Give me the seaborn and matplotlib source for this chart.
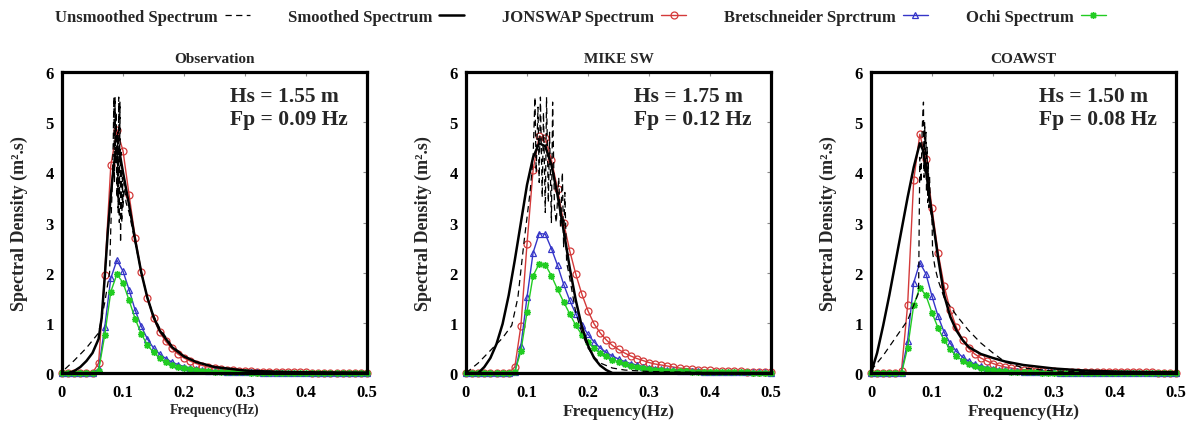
import matplotlib
matplotlib.use("Agg")
import matplotlib.pyplot as plt
import seaborn as sns

# frequency grid of the fitted spectra (Hz)
freq = [0.00, 0.01, 0.02, 0.03, 0.04, 0.05, 0.06, 0.07, 0.08, 0.09,
        0.10, 0.11, 0.12, 0.13, 0.14, 0.15, 0.16, 0.17, 0.18, 0.19,
        0.20, 0.21, 0.22, 0.23, 0.24, 0.25, 0.26, 0.27, 0.28, 0.29,
        0.30, 0.31, 0.32, 0.33, 0.34, 0.35, 0.36, 0.37, 0.38, 0.39,
        0.40, 0.41, 0.42, 0.43, 0.44, 0.45, 0.46, 0.47, 0.48, 0.49, 0.50]

# ---- Observation ----
obs_jonswap = [0, 0, 0, 0, 0, 0, 0.20, 1.96, 4.14, 4.85,
               4.43, 3.55, 2.70, 2.02, 1.49, 1.09, 0.82, 0.63, 0.49, 0.38,
               0.30, 0.24, 0.19, 0.15, 0.12, 0.10, 0.08, 0.07, 0.06, 0.05,
               0.04, 0.035, 0.03, 0.027, 0.024, 0.021, 0.019, 0.017, 0.015, 0.013,
               0.012, 0.011, 0.010, 0.009, 0.008, 0.008, 0.007, 0.006, 0.006, 0.005, 0.005]
obs_bret = [0, 0, 0, 0, 0, 0, 0.08, 0.91, 1.89, 2.25,
            2.03, 1.66, 1.25, 0.93, 0.68, 0.50, 0.38, 0.29, 0.22, 0.17,
            0.13, 0.10, 0.08, 0.065, 0.05, 0.04, 0.035, 0.03, 0.025, 0.02,
            0.018, 0.015, 0.013, 0.011, 0.010, 0.009, 0.008, 0.007, 0.006, 0.006,
            0.005, 0.005, 0.004, 0.004, 0.004, 0.003, 0.003, 0.003, 0.003, 0.002, 0.002]
obs_ochi = [0, 0, 0, 0, 0, 0, 0.05, 0.75, 1.62, 1.97,
            1.80, 1.45, 1.08, 0.78, 0.56, 0.41, 0.30, 0.22, 0.17, 0.13,
            0.10, 0.08, 0.06, 0.05, 0.04, 0.03, 0.025, 0.02, 0.017, 0.014,
            0.012, 0.010, 0.009, 0.008, 0.007, 0.006, 0.005, 0.005, 0.004, 0.004,
            0.003, 0.003, 0.003, 0.002, 0.002, 0.002, 0.002, 0.002, 0.001, 0.001, 0.001]
obs_smooth_f = [0.0, 0.01, 0.02, 0.03, 0.04, 0.05, 0.06, 0.065, 0.07, 0.075,
                0.08, 0.085, 0.09, 0.095, 0.10, 0.11, 0.12, 0.13, 0.14, 0.15,
                0.16, 0.18, 0.20, 0.22, 0.25, 0.30, 0.35, 0.40, 0.45, 0.50]
obs_smooth = [0.0, 0.0, 0.04, 0.12, 0.24, 0.40, 0.68, 1.10, 1.90, 2.80,
              3.55, 4.15, 4.50, 4.35, 4.00, 3.35, 2.65, 2.00, 1.50, 1.12,
              0.85, 0.52, 0.33, 0.22, 0.12, 0.05, 0.025, 0.015, 0.010, 0.008]
obs_raw_f = [0.005, 0.02, 0.04, 0.06, 0.07, 0.078, 0.080, 0.082, 0.084, 0.085,
             0.086, 0.087, 0.088, 0.089, 0.090, 0.091, 0.092, 0.093, 0.094, 0.095,
             0.096, 0.097, 0.098, 0.099, 0.100, 0.102, 0.105, 0.11, 0.12, 0.13,
             0.14, 0.15, 0.16, 0.17, 0.18, 0.20, 0.22, 0.25, 0.30, 0.40, 0.50]
obs_raw = [0.08, 0.25, 0.50, 0.80, 1.40, 2.00, 2.90, 3.60, 4.60, 5.50,
           3.80, 5.50, 4.20, 5.20, 3.50, 4.80, 3.20, 5.50, 3.00, 5.40,
           2.60, 4.40, 3.00, 3.90, 3.30, 3.80, 3.40, 3.20, 2.60, 2.00,
           1.50, 1.15, 0.90, 0.72, 0.55, 0.34, 0.22, 0.12, 0.05, 0.02, 0.01]

# ---- MIKE SW ----
mike_jonswap = [0, 0, 0, 0, 0, 0, 0, 0, 0.12, 0.94,
                2.57, 4.05, 4.72, 4.68, 4.25, 3.67, 3.00, 2.44, 1.97, 1.57,
                1.24, 0.98, 0.80, 0.66, 0.55, 0.47, 0.40, 0.34, 0.29, 0.25,
                0.21, 0.18, 0.16, 0.14, 0.12, 0.10, 0.09, 0.08, 0.07, 0.06,
                0.055, 0.05, 0.045, 0.04, 0.036, 0.033, 0.03, 0.027, 0.025, 0.023, 0.021]
mike_bret = [0, 0, 0, 0, 0, 0, 0, 0, 0.02, 0.54,
             1.51, 2.40, 2.78, 2.77, 2.48, 2.15, 1.77, 1.45, 1.18, 0.96,
             0.77, 0.62, 0.50, 0.41, 0.34, 0.28, 0.23, 0.19, 0.16, 0.13,
             0.11, 0.09, 0.08, 0.07, 0.06, 0.05, 0.045, 0.04, 0.035, 0.03,
             0.027, 0.024, 0.022, 0.02, 0.018, 0.016, 0.015, 0.014, 0.013, 0.012, 0.011]
mike_ochi = [0, 0, 0, 0, 0, 0, 0, 0, 0.02, 0.44,
             1.21, 1.94, 2.18, 2.16, 1.94, 1.67, 1.42, 1.18, 0.95, 0.76,
             0.61, 0.49, 0.40, 0.33, 0.27, 0.22, 0.18, 0.15, 0.12, 0.10,
             0.085, 0.07, 0.06, 0.05, 0.045, 0.04, 0.035, 0.03, 0.027, 0.024,
             0.021, 0.019, 0.017, 0.015, 0.014, 0.013, 0.012, 0.011, 0.010, 0.009, 0.008]
mike_smooth_f = [0.00, 0.02, 0.03, 0.04, 0.05, 0.06, 0.07, 0.08, 0.09, 0.10,
                 0.11, 0.12, 0.13, 0.14, 0.15, 0.16, 0.17, 0.18, 0.19, 0.20,
                 0.21, 0.22, 0.23, 0.24, 0.30, 0.40, 0.50]
mike_smooth = [0.0, 0.0, 0.12, 0.30, 0.58, 0.98, 1.55, 2.25, 3.00, 3.75,
               4.30, 4.58, 4.52, 4.15, 3.55, 2.85, 2.10, 1.45, 0.92, 0.55,
               0.30, 0.15, 0.06, 0.0, 0.0, 0.0, 0.0]
mike_raw_f = [0.00, 0.02, 0.04, 0.06, 0.075, 0.085, 0.095, 0.105, 0.11, 0.113,
              0.115, 0.118, 0.12, 0.122, 0.125, 0.127, 0.13, 0.132, 0.135, 0.137,
              0.14, 0.142, 0.145, 0.148, 0.152, 0.155, 0.158, 0.16, 0.162, 0.165,
              0.17, 0.18, 0.19, 0.20, 0.21, 0.22, 0.24, 0.26, 0.30, 0.40, 0.50]
mike_raw = [0.0, 0.20, 0.45, 0.70, 0.95, 1.50, 2.60, 3.60, 4.30, 5.50,
            4.00, 5.30, 3.80, 5.50, 3.50, 5.20, 3.20, 5.50, 3.40, 4.80,
            3.00, 5.40, 3.30, 3.00, 3.90, 2.90, 4.00, 2.50, 3.60, 2.20,
            1.90, 1.20, 0.80, 0.50, 0.32, 0.20, 0.10, 0.06, 0.03, 0.01, 0.005]

# ---- COAWST ----
coawst_jonswap = [0, 0, 0, 0, 0, 0.05, 1.35, 3.84, 4.76, 4.26,
                  3.28, 2.40, 1.73, 1.25, 0.91, 0.66, 0.49, 0.38, 0.30, 0.24,
                  0.19, 0.15, 0.12, 0.10, 0.08, 0.07, 0.06, 0.05, 0.045, 0.04,
                  0.035, 0.03, 0.028, 0.026, 0.024, 0.022, 0.02, 0.019, 0.018, 0.017,
                  0.016, 0.015, 0.014, 0.013, 0.013, 0.012, 0.012, 0.011, 0.011, 0.010, 0.010]
coawst_bret = [0, 0, 0, 0, 0, 0, 0.64, 1.80, 2.20, 1.98,
               1.53, 1.13, 0.81, 0.59, 0.43, 0.32, 0.24, 0.18, 0.14, 0.11,
               0.085, 0.07, 0.055, 0.045, 0.037, 0.03, 0.025, 0.021, 0.018, 0.015,
               0.013, 0.011, 0.010, 0.009, 0.008, 0.007, 0.006, 0.006, 0.005, 0.005,
               0.004, 0.004, 0.004, 0.003, 0.003, 0.003, 0.003, 0.002, 0.002, 0.002, 0.002]
coawst_ochi = [0, 0, 0, 0, 0, 0, 0.50, 1.35, 1.70, 1.55,
               1.20, 0.90, 0.65, 0.47, 0.34, 0.25, 0.18, 0.135, 0.10, 0.075,
               0.06, 0.045, 0.035, 0.028, 0.022, 0.018, 0.015, 0.012, 0.010, 0.009,
               0.008, 0.007, 0.006, 0.005, 0.005, 0.004, 0.004, 0.003, 0.003, 0.003,
               0.002, 0.002, 0.002, 0.002, 0.002, 0.002, 0.001, 0.001, 0.001, 0.001, 0.001]
coawst_smooth_f = [0.0, 0.01, 0.02, 0.03, 0.04, 0.05, 0.06, 0.07, 0.08, 0.085,
                   0.09, 0.095, 0.10, 0.11, 0.12, 0.13, 0.14, 0.15, 0.16, 0.18,
                   0.20, 0.22, 0.25, 0.30, 0.35, 0.40, 0.45, 0.50]
coawst_smooth = [0.0, 0.40, 0.95, 1.55, 2.20, 2.85, 3.50, 4.10, 4.58, 4.45,
                 4.05, 3.60, 3.15, 2.30, 1.55, 1.12, 0.85, 0.66, 0.52, 0.38,
                 0.30, 0.23, 0.16, 0.09, 0.05, 0.03, 0.02, 0.015]
coawst_raw_f = [0.0, 0.02, 0.04, 0.06, 0.07, 0.078, 0.080, 0.082, 0.084, 0.086,
                0.087, 0.088, 0.089, 0.090, 0.091, 0.092, 0.093, 0.094, 0.095, 0.096,
                0.098, 0.100, 0.101, 0.105, 0.11, 0.12, 0.14, 0.16, 0.18, 0.20,
                0.22, 0.25, 0.30, 0.40, 0.50]
coawst_raw = [0.05, 0.35, 0.70, 1.05, 1.35, 1.60, 4.30, 3.80, 4.90, 5.40,
              3.90, 5.00, 4.00, 4.80, 3.60, 4.50, 3.40, 4.20, 3.30, 3.90,
              3.20, 3.10, 2.40, 2.10, 1.85, 1.50, 1.15, 0.85, 0.60, 0.40,
              0.22, 0.10, 0.04, 0.015, 0.008]

titles = ["Observation", "MIKE SW", "COAWST"]
hs_values = ["1.55", "1.75", "1.50"]
fp_values = ["0.09", "0.12", "0.08"]
legend_labels = ["Unsmoothed Spectrum", "Smoothed Spectrum", "JONSWAP Spectrum",
                 "Bretschneider Sprctrum", "Ochi Spectrum"]
xticks = [0, 0.1, 0.2, 0.3, 0.4, 0.5]
xticklabels = ["0", "0.1", "0.2", "0.3", "0.4", "0.5"]
yticks = [0, 1, 2, 3, 4, 5, 6]

sns.set_style("white")
plt.rcParams['font.family'] = ['Liberation Serif', 'DejaVu Serif']
plt.rcParams['font.weight'] = 'bold'
plt.rcParams['axes.labelweight'] = 'bold'
plt.rcParams['axes.titleweight'] = 'bold'

RED = '#d43a3a'
BLUE = '#3535c8'
GREEN = '#22cc22'

panels = [
    (obs_raw_f, obs_raw, obs_smooth_f, obs_smooth, obs_jonswap, obs_bret, obs_ochi),
    (mike_raw_f, mike_raw, mike_smooth_f, mike_smooth, mike_jonswap, mike_bret, mike_ochi),
    (coawst_raw_f, coawst_raw, coawst_smooth_f, coawst_smooth, coawst_jonswap, coawst_bret, coawst_ochi),
]
lefts = [62 / 1192, 466 / 1192, 871 / 1192]
xlabel_sizes = [10, 12.5, 12.5]

fig = plt.figure(figsize=(11.92, 4.27), dpi=100)
axes = []
for i, (rf, rv, sf, sv, jon, bre, och) in enumerate(panels):
    ax = fig.add_axes([lefts[i], 0.124, 305 / 1192, 0.705])
    axes.append(ax)
    sns.lineplot(x=rf, y=rv, ax=ax, color='black', linestyle=(0, (5, 3.5)), linewidth=0.9,
                 estimator=None, sort=False, legend=False, label=legend_labels[0], zorder=4)
    sns.lineplot(x=sf, y=sv, ax=ax, color='black', linewidth=1.8,
                 estimator=None, sort=False, legend=False, label=legend_labels[1], zorder=5)
    sns.lineplot(x=freq, y=jon, ax=ax, color=RED, linewidth=1.0, marker='o', markersize=5,
                 markerfacecolor='none', markeredgecolor=RED, markeredgewidth=0.9,
                 estimator=None, legend=False, label=legend_labels[2], clip_on=False, zorder=3)
    sns.lineplot(x=freq, y=bre, ax=ax, color=BLUE, linewidth=1.0, marker='^', markersize=5,
                 markerfacecolor='none', markeredgecolor=BLUE, markeredgewidth=0.9,
                 estimator=None, legend=False, label=legend_labels[3], clip_on=False, zorder=3)
    sns.lineplot(x=freq, y=och, ax=ax, color=GREEN, linewidth=1.0, marker=(8, 2, 0), markersize=5,
                 markeredgecolor=GREEN, markeredgewidth=1.0,
                 estimator=None, legend=False, label=legend_labels[4], clip_on=False, zorder=3)

    ax.set_xlim(0, 0.5)
    ax.set_ylim(0, 6)
    ax.set_xticks(xticks)
    ax.set_xticklabels(xticklabels)
    ax.set_yticks(yticks)
    ax.tick_params(direction='in', length=3, width=0.8, color='0.55', top=True, right=True,
                   labelsize=12, labelcolor='black')
    ax.tick_params(axis='x', pad=8)
    ax.tick_params(axis='y', pad=6)
    for sp in ax.spines.values():
        sp.set_linewidth(2.3)
        sp.set_color('black')
        sp.set_zorder(6)
    ax.set_title(titles[i], fontsize=11, fontweight='bold', pad=7)
    ax.set_xlabel("Frequency(Hz)", fontsize=xlabel_sizes[i], fontweight='bold', labelpad=2)
    ax.set_ylabel("Spectral Density (m².s)", fontsize=13, fontweight='bold')
    ax.yaxis.set_label_coords(-0.11, 0.5)
    ax.text(0.55, 0.955, "Hs = {} m\nFp = {} Hz".format(hs_values[i], fp_values[i]),
            transform=ax.transAxes, ha='left', va='top', fontsize=15.5,
            fontweight='bold', linespacing=1.25)

handles, labels = axes[0].get_legend_handles_labels()
order = [labels.index(l) for l in legend_labels]
fig.legend([handles[k] for k in order], [labels[k] for k in order],
           loc='center', bbox_to_anchor=(0.487, 0.958), ncol=5, frameon=False,
           markerfirst=False, handlelength=1.5, handletextpad=0.4, columnspacing=2.3,
           prop={'family': 'Liberation Serif', 'weight': 'bold', 'size': 12})

fig.savefig("out.png", dpi=100)
